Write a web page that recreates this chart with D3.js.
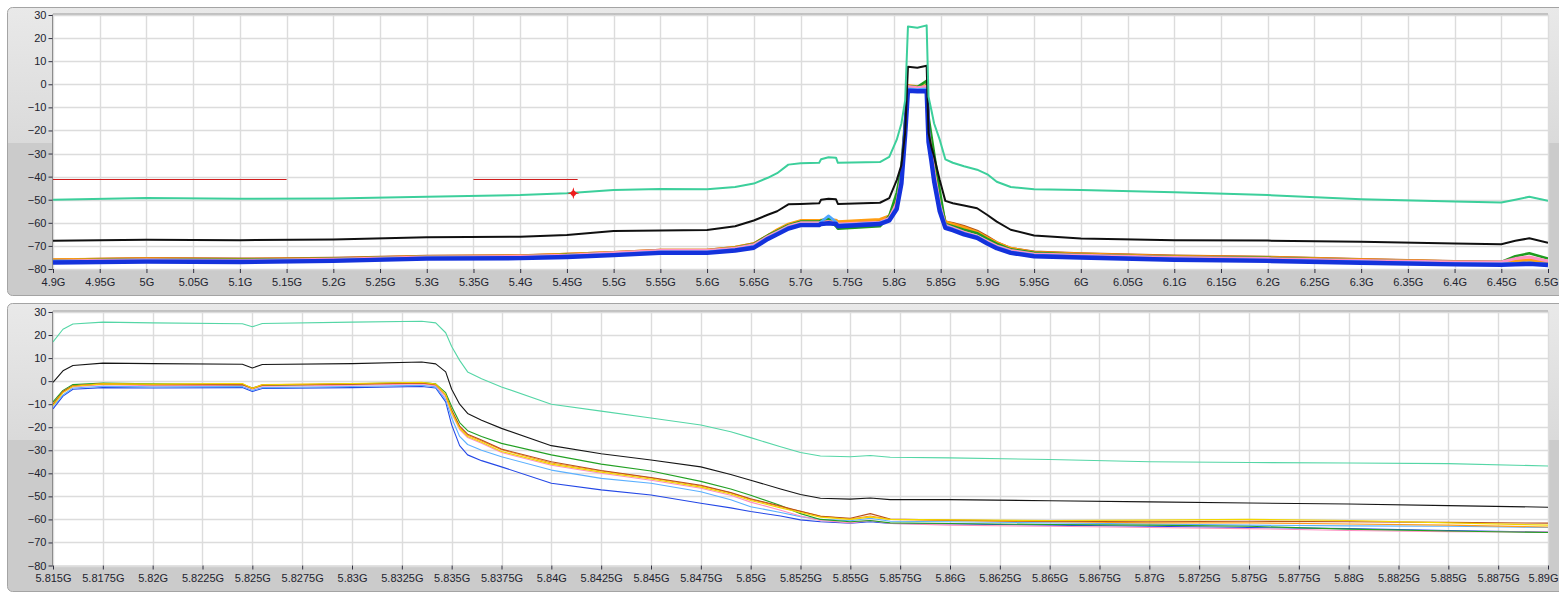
<!DOCTYPE html>
<html>
<head>
<meta charset="utf-8">
<script src="https://cdn.jsdelivr.net/npm/d3@7"></script>
<style>
  html, body { margin: 0; padding: 0; background: #ffffff; }
  svg { display: block; }
  .tick text { font-family: "Liberation Sans", Arial, sans-serif; font-size: 11px; fill: #22232e; }
</style>
</head>
<body>
<svg id="chart" width="1559" height="592"></svg>
<script>
// ---------------- DATA ----------------
// Y ticks (dB) shared by both panels
const yTicks = [-80, -70, -60, -50, -40, -30, -20, -10, 0, 10, 20, 30];

// Top panel: full span 4.9 GHz – 6.5 GHz
const xTicksTop = [4.9, 4.95, 5.0, 5.05, 5.1, 5.15, 5.2, 5.25, 5.3, 5.35, 5.4, 5.45, 5.5, 5.55, 5.6, 5.65,
  5.7, 5.75, 5.8, 5.85, 5.9, 5.95, 6.0, 6.05, 6.1, 6.15, 6.2, 6.25, 6.3, 6.35, 6.4, 6.45, 6.5];

const freqTop = [4.9, 5.0, 5.1, 5.2, 5.3, 5.4, 5.45, 5.5, 5.55, 5.6, 5.63, 5.65, 5.665, 5.675, 5.687, 5.7,
  5.72, 5.722, 5.73, 5.738, 5.74, 5.785, 5.795, 5.803, 5.808, 5.812, 5.815, 5.825, 5.835, 5.837, 5.84,
  5.843, 5.849, 5.855, 5.863, 5.875, 5.889, 5.9, 5.91, 5.925, 5.95, 6.0, 6.1, 6.2, 6.3, 6.4, 6.45, 6.465, 6.48, 6.5];

const topTeal = [-50, -49.3, -49.6, -49.5, -48.7, -48, -47.2, -45.8, -45.4, -45.5, -44.5, -43, -40.5, -38.5, -34.8, -34.2,
  -34, -32.5, -31.6, -31.8, -34, -33.7, -31.4, -24, -17, -7, 25, 24.5, 25.5, -5.4, -11,
  -17, -24, -32.5, -34, -35.5, -37, -39, -42.2, -44.5, -45.5, -45.8, -46.8, -48, -49.8, -50.8, -51.2, -50, -48.7, -50.5];

const topBlack = [-67.8, -67.3, -67.5, -67.2, -66.3, -66, -65.3, -63.5, -63.3, -63.1, -61.5, -59, -56.5, -55, -52, -51.8,
  -51.5, -50, -49.6, -49.8, -51.8, -51.3, -49.3, -41.5, -35, -21, 7.6, 7.2, 8, -21, -27,
  -31.4, -41.5, -50.5, -51.5, -52.5, -53.7, -56.6, -59.5, -63, -65.5, -66.8, -67.5, -67.7, -68.2, -69, -69.3, -67.8, -66.7, -68.6];

const topBlue = [-77.2, -76.8, -77, -76.5, -75.5, -75.3, -74.8, -74, -73, -73, -72, -70.8, -67, -65, -62.5, -61,
  -61, -60.5, -60.2, -60.5, -61.5, -60.5, -59, -54, -43, -22, -2.8, -3, -3, -25, -33,
  -42, -55, -62.2, -63.2, -65, -66.5, -69, -71, -73, -74.5, -75, -76, -76.5, -77.3, -78, -78.2, -78, -77.8, -78.3];

const topLightBlue = [-76.8, -76.4, -76.6, -76.2, -75.2, -75, -74.4, -73.6, -72.6, -72.6, -71.6, -70.2, -66.5, -64.5, -62, -60.5,
  -60.5, -59.5, -57, -59.5, -61, -60, -58.5, -53, -42, -21, -2, -2.3, -2, -23, -31,
  -40, -53, -61.5, -62.7, -64.5, -66, -68.5, -70.5, -72.5, -74, -74.6, -75.6, -76.1, -76.9, -77.6, -77.8, -77.5, -77.3, -77.9];

const topPink = [-76.5, -76, -76.3, -75.8, -74.8, -74.5, -74, -73, -72, -72, -71, -69.5, -66, -64, -61.5, -60,
  -60, -59.8, -59.5, -59.8, -60.5, -59.8, -58, -51.5, -40, -19, -1, -1.5, -1, -20, -29,
  -38, -52, -61, -62.2, -64, -65.8, -68, -70, -72, -73.5, -74, -75, -75.5, -76.3, -77, -77, -75.5, -74.8, -76.5];

const topOrange = [-76, -75.5, -75.8, -75.5, -74.5, -74.3, -73.6, -72.8, -71.8, -71.8, -70.5, -69, -65.5, -63, -60.5, -59,
  -59, -58.8, -58.5, -58.8, -59.5, -58.5, -57, -50, -39, -18, -0.5, -1, -0.5, -17, -26,
  -35, -50, -59.5, -60.5, -62, -64, -66.5, -68.5, -71, -72.8, -73.5, -74.5, -75, -76, -76.8, -77, -76.5, -76, -77];

const topGreen = [-76.3, -75.8, -76, -75.6, -74.7, -74.5, -73.8, -73, -72, -72, -70.8, -69.2, -65.5, -63.5, -61, -59.5,
  -59.5, -59, -58.2, -61.5, -62.5, -61.5, -57, -47, -36, -15, -0.8, -1.2, 1.5, -14, -22,
  -30, -46, -60.5, -61.5, -63, -64.5, -67, -69, -71.5, -73, -73.8, -74.8, -75.2, -76.2, -77, -77, -74.5, -73.2, -75.5];

const topBrown = [-76, -75.4, -75.6, -75.3, -74.4, -74.2, -73.5, -72.8, -71.8, -71.8, -70.6, -69, -65.5, -63.2, -60.8, -59.3,
  -59.3, -59, -58.8, -59, -59.8, -59, -57.5, -50.5, -39.5, -18.5, -0.8, -1.2, -0.8, -18, -27,
  -36, -50.5, -59.5, -60.2, -61.5, -63.5, -66, -68.5, -71, -72.5, -73.3, -74.3, -74.8, -75.8, -76.7, -77, -76.6, -76.2, -77];

// limit lines and marker on the top panel
const limitSegments = [[4.9, 5.15, -41.2], [5.35, 5.4615, -41.2]];
const markerPoint = [5.4569, -47.2];

// Bottom panel: zoom 5.815 GHz – 5.89 GHz
const xTicksBottom = [5.815, 5.8175, 5.82, 5.8225, 5.825, 5.8275, 5.83, 5.8325, 5.835, 5.8375, 5.84, 5.8425, 5.845,
  5.8475, 5.85, 5.8525, 5.855, 5.8575, 5.86, 5.8625, 5.865, 5.8675, 5.87, 5.8725, 5.875, 5.8775, 5.88, 5.8825,
  5.885, 5.8875, 5.89];

const freqBottom = [5.815, 5.8155, 5.816, 5.8175, 5.82, 5.8245, 5.825, 5.8255, 5.83, 5.8335, 5.8342, 5.8347, 5.835,
  5.8354, 5.8358, 5.8365, 5.8375, 5.84, 5.8425, 5.845, 5.8475, 5.849, 5.85, 5.8515, 5.8525, 5.8535, 5.855, 5.856,
  5.857, 5.86, 5.865, 5.87, 5.875, 5.88, 5.885, 5.89];

const botTeal = [17, 22.5, 24.8, 25.6, 25.3, 24.9, 23.6, 25, 25.6, 26, 25.3, 21, 15,
  9, 4, 1, -2.5, -10, -13, -16, -19, -22, -24.5, -28.5, -31, -32.5, -32.8, -32.3,
  -33, -33.3, -34, -35, -35.3, -35.5, -35.8, -36.8];

const botBlack = [-0.5, 4.5, 6.8, 7.8, 7.6, 7.3, 5.7, 7.2, 7.6, 8.3, 7.5, 4, -3.5,
  -10, -14, -17, -20.5, -28, -31.5, -34.2, -37.2, -40.5, -43, -46.8, -49.2, -50.8, -51.2, -50.7,
  -51.4, -51.4, -51.9, -52.4, -52.9, -53.3, -54, -54.7];

const botGreen = [-9, -4, -1.5, -0.8, -1.2, -1.5, -3, -1.8, -1.2, -0.6, -1.2, -5, -11,
  -18, -21.5, -24, -27, -32, -36, -39, -43.5, -46.8, -49.5, -54, -57.5, -60, -61, -60.5,
  -61.5, -61.8, -62.2, -62.5, -63, -64.2, -65, -65.7];

const botOrange = [-10, -4.5, -2, -1, -1.5, -1.2, -3, -1.5, -1.2, -0.8, -1.5, -6, -13,
  -20, -23.5, -26, -29.8, -35.5, -39, -42, -45.5, -48.5, -51.3, -54.5, -56.5, -58.5, -59.8, -58.5,
  -60, -60.5, -61, -61.5, -61.5, -62, -62.5, -63.3];

const botYellow = [-10.5, -5, -2.2, -1.2, -1.3, -1, -3.2, -1.6, -1, -0.5, -1.3, -6, -13.5,
  -20.5, -24, -26.5, -30.5, -36, -39.5, -42.5, -46, -49, -51.8, -55, -57, -59, -60, -59,
  -60, -60.2, -60.5, -60.3, -60, -60.5, -61.5, -62.5];

const botBrown = [-10, -4.5, -2, -1.2, -1.6, -1.5, -3.2, -1.8, -1.3, -0.8, -1.5, -6, -12.5,
  -19.5, -23, -25.5, -29.5, -35, -38.8, -41.8, -45.2, -48.3, -51, -54.2, -56.5, -58.6, -59.5, -57.5,
  -59.8, -60.3, -60.8, -61, -60.8, -61, -61.3, -61.6];

const botPink = [-10.5, -5, -2.5, -1.5, -2, -1.8, -3.5, -2.2, -1.8, -1.2, -2, -7, -14,
  -21, -24.5, -27, -31, -36.5, -40, -43, -46.5, -49.5, -52.5, -56, -58.5, -60.5, -61.5, -60.5,
  -61.8, -62.5, -63, -63.5, -64, -64.8, -65.3, -65.5];

const botLightBlue = [-11, -6, -3, -2.2, -2.5, -2.3, -4, -2.8, -2.3, -1.8, -2.5, -8, -16,
  -24, -27.5, -30, -32.8, -38.6, -42.2, -44.3, -48, -51.5, -54.5, -57, -58.8, -60, -60.6, -59.5,
  -60.8, -61, -61.5, -62, -62.5, -62.8, -63, -63.5];

const botBlue = [-12, -6.5, -3.5, -2.8, -3, -2.8, -4.5, -3.2, -2.8, -2.3, -3, -9, -19,
  -28, -32, -34.5, -37.2, -44.3, -47.2, -49.4, -53, -55, -56.6, -58.5, -60.2, -61, -61.6, -61,
  -61.8, -62, -62.5, -63, -63.5, -64, -64.8, -65.5];

// ---------------- STYLE / LAYOUT ----------------
const svg = d3.select("#chart");
const plotLeft = 53, plotRight = 1548;
const pageWidth = 1559;

const panels = [
  { frameTop: 7, frameBottom: 295, split: 143, yTop: 14.5, yBottom: 269, domain: [4.9, 6.5], ticks: xTicksTop,
    freq: freqTop,
    series: [
      { v: topBrown, c: "#b0521a", w: 2.6 },
      { v: topOrange, c: "#ff9d12", w: 2.8 },
      { v: topGreen, c: "#1f9c1f", w: 2.6 },
      { v: topPink, c: "#ff92c2", w: 3 },
      { v: topLightBlue, c: "#4da6ff", w: 2.6 },
      { v: topBlue, c: "#1432dc", w: 4.4 },
      { v: topBlack, c: "#101010", w: 2 },
      { v: topTeal, c: "#3ccf9b", w: 2 }
    ] },
  { frameTop: 303, frameBottom: 591, split: 440, yTop: 311.5, yBottom: 565.5, domain: [5.815, 5.89], ticks: xTicksBottom,
    freq: freqBottom,
    series: [
      { v: botBlue, c: "#2448e6", w: 1.1 },
      { v: botLightBlue, c: "#5cb0ff", w: 1.1 },
      { v: botPink, c: "#ff8ec0", w: 1.1 },
      { v: botGreen, c: "#23a023", w: 1.1 },
      { v: botOrange, c: "#ff9a18", w: 1.1 },
      { v: botBrown, c: "#b8501c", w: 1.1 },
      { v: botYellow, c: "#f2d600", w: 1.1 },
      { v: botBlack, c: "#161616", w: 1.1 },
      { v: botTeal, c: "#55d6a6", w: 1.1 }
    ] }
];

const defs = svg.append("defs");
const fmtG = d => (+d.toFixed(4)).toString() + "G";

panels.forEach((p, i) => {
  const g = svg.append("g");
  // frame: lighter upper part, darker lower part
  const grad = defs.append("linearGradient").attr("id", "pg" + i)
    .attr("x1", 0).attr("y1", p.frameTop).attr("x2", 0).attr("y2", p.frameBottom)
    .attr("gradientUnits", "userSpaceOnUse");
  const s = (p.split - p.frameTop) / (p.frameBottom - p.frameTop);
  grad.append("stop").attr("offset", 0).attr("stop-color", "#e9e9e9");
  grad.append("stop").attr("offset", s).attr("stop-color", "#dadada");
  grad.append("stop").attr("offset", s).attr("stop-color", "#cbcbcb");
  grad.append("stop").attr("offset", 1).attr("stop-color", "#cbcbcb");
  g.append("rect").attr("x", 7.5).attr("y", p.frameTop + 0.5).attr("width", 1570)
    .attr("height", p.frameBottom - p.frameTop).attr("rx", 5)
    .attr("fill", "url(#pg" + i + ")").attr("stroke", "#a4a4a4").attr("stroke-width", 1);

  const x = d3.scaleLinear().domain(p.domain).range([plotLeft, plotRight]);
  const y = d3.scaleLinear().domain([-80, 30]).range([p.yBottom, p.yTop + 0.5]);

  // plot background
  g.append("rect").attr("x", plotLeft).attr("y", p.yTop).attr("width", plotRight - plotLeft)
    .attr("height", p.yBottom - p.yTop).attr("fill", "#ffffff");

  // grid
  g.append("g").selectAll("line").data(yTicks).join("line")
    .attr("x1", plotLeft).attr("x2", plotRight)
    .attr("y1", d => Math.round(y(d)) + 0.5).attr("y2", d => Math.round(y(d)) + 0.5)
    .attr("stroke", "#dcdcdc").attr("stroke-width", 1.4);
  g.append("g").selectAll("line").data(p.ticks).join("line")
    .attr("x1", d => Math.round(x(d)) + 0.5).attr("x2", d => Math.round(x(d)) + 0.5)
    .attr("y1", p.yTop).attr("y2", p.yBottom)
    .attr("stroke", "#dcdcdc").attr("stroke-width", 1.4);

  // clip
  defs.append("clipPath").attr("id", "clip" + i).append("rect")
    .attr("x", plotLeft).attr("y", p.yTop).attr("width", plotRight - plotLeft).attr("height", p.yBottom - p.yTop);

  const plot = g.append("g").attr("clip-path", "url(#clip" + i + ")");
  const line = d3.line().x(d => x(d[0])).y(d => y(d[1]));

  p.series.forEach(sr => {
    const pts = p.freq.map((f, k) => [f, sr.v[k]]);
    plot.append("path").attr("d", line(pts)).attr("fill", "none")
      .attr("stroke", sr.c).attr("stroke-width", sr.w).attr("stroke-linejoin", "round");
  });

  if (i === 0) {
    limitSegments.forEach(sg => {
      plot.append("line").attr("x1", x(sg[0])).attr("x2", x(sg[1]))
        .attr("y1", Math.round(y(sg[2])) + 0.5).attr("y2", Math.round(y(sg[2])) + 0.5)
        .attr("stroke", "#d01c1c").attr("stroke-width", 1);
    });
    const mx = x(markerPoint[0]), my = y(markerPoint[1]);
    const mk = plot.append("g").attr("transform", `translate(${mx},${my})`);
    mk.append("path").attr("d", "M0,-6 L1.3,-1.3 L6,0 L1.3,1.3 L0,6 L-1.3,1.3 L-6,0 L-1.3,-1.3 Z").attr("fill", "#ee1c1c");
    mk.append("circle").attr("r", 2.6).attr("fill", "#ee1c1c");
  }

  // plot border (left & top darker)
  g.append("line").attr("x1", plotLeft - 0.5).attr("x2", plotLeft - 0.5).attr("y1", p.yTop).attr("y2", p.yBottom + 1)
    .attr("stroke", "#8c8c8c").attr("stroke-width", 1);
  g.append("line").attr("x1", plotLeft).attr("x2", plotRight).attr("y1", p.yTop - 0.5).attr("y2", p.yTop - 0.5)
    .attr("stroke", "#9a9a9a").attr("stroke-width", 1);

  // axes
  const yAxis = d3.axisLeft(y).tickValues(yTicks).tickSize(4).tickPadding(2).tickFormat(d3.format("d"));
  const ya = g.append("g").attr("transform", `translate(${plotLeft - 0.5},0)`).call(yAxis);
  ya.select(".domain").remove();
  ya.selectAll(".tick line").attr("stroke", "#303040");

  const xAxis = d3.axisBottom(x).tickValues(p.ticks).tickSize(4).tickPadding(5).tickFormat(fmtG);
  const xa = g.append("g").attr("transform", `translate(0,${p.yBottom})`).call(xAxis);
  xa.select(".domain").remove();
  xa.selectAll(".tick line").attr("stroke", "#303040");

  // keep the right-most label inside the page
  xa.selectAll(".tick text").each(function(d) {
    const bb = this.getBBox();
    const right = x(d) + bb.width / 2;
    if (right > pageWidth - 1) {
      d3.select(this).attr("dx", (pageWidth - 1 - right).toFixed(1));
    }
  });
});
</script>
</body>
</html>
